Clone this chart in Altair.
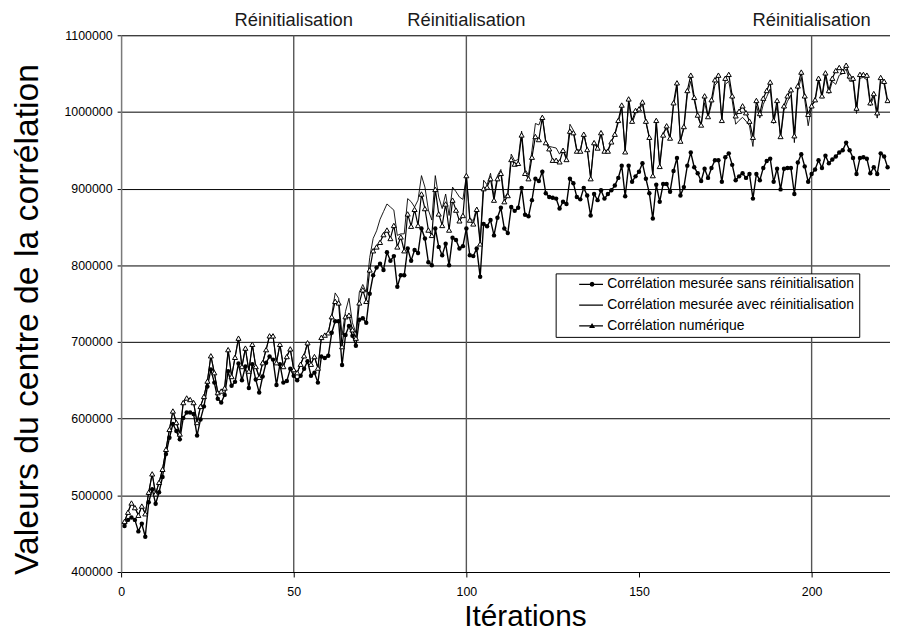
import altair as alt
import pandas as pd

# ---------------- data (values in thousands) ----------------
iterations = list(range(1, 223))

sans_reinit_k = [
    460, 468, 471, 468, 453, 463, 446, 491, 508, 489,
    504, 524, 554, 575, 593, 584, 573, 601, 608, 608,
    606, 578, 599, 616, 642, 664, 647, 626, 621, 631,
    662, 643, 648, 672, 650, 668, 640, 671, 651, 634,
    655, 673, 681, 677, 644, 671, 647, 649, 665, 656,
    650, 656, 665, 675, 656, 660, 647, 681, 679, 682,
    712, 727, 727, 670, 709, 721, 708, 695, 729, 731,
    725, 763, 787, 797, 802, 794, 817, 806, 812, 772,
    787, 787, 822, 806, 820, 816, 848, 835, 804, 800,
    848, 824, 813, 828, 800, 836, 833, 822, 825, 848,
    813, 812, 822, 785, 854, 851, 859, 839, 862, 875,
    848, 842, 876, 871, 875, 901, 866, 864, 885, 913,
    910, 922, 894, 889, 888, 887, 874, 883, 880, 913,
    907, 889, 886, 901, 891, 865, 893, 885, 898, 887,
    893, 898, 904, 914, 930, 890, 930, 909, 916, 922,
    933, 913, 894, 861, 905, 883, 906, 906, 896, 923,
    940, 891, 902, 930, 947, 928, 920, 910, 926, 914,
    927, 937, 937, 909, 941, 946, 931, 911, 916, 920,
    914, 919, 887, 919, 911, 927, 936, 939, 909, 926,
    899, 926, 927, 927, 893, 934, 945, 929, 909, 919,
    925, 937, 927, 943, 933, 938, 942, 947, 950, 960,
    950, 940, 919, 940, 941, 939, 920, 928, 919, 946,
    942, 928,
]

avec_reinit_k = [
    466, 478, 490, 484, 474, 486, 476, 504, 528, 502,
    517, 534, 560, 586, 610, 595, 580, 621, 627, 625,
    621, 595, 616, 629, 649, 682, 660, 634, 636, 640,
    690, 655, 680, 705, 668, 692, 662, 697, 668, 654,
    673, 690, 708, 708, 673, 697, 668, 681, 691, 664,
    660, 671, 682, 699, 671, 681, 666, 706, 709, 712,
    735, 764, 757, 709, 740, 757, 725, 712, 765, 775,
    765, 810, 835, 845, 860, 870, 880, 876, 872, 839,
    841, 841, 887, 883, 876, 885, 917, 902, 872, 859,
    917, 889, 874, 893, 865, 902, 896, 889, 886, 917,
    862, 858, 876, 832, 911, 905, 920, 889, 917, 925,
    888, 895, 945, 936, 938, 975, 925, 918, 950, 985,
    983, 995, 962, 955, 954, 953, 945, 952, 940, 984,
    976, 951, 950, 972, 952, 915, 961, 954, 972, 950,
    950, 962, 970, 986, 1005, 950, 1012, 985, 998, 1002,
    1010, 986, 966, 918, 985, 931, 973, 978, 965, 1008,
    1032, 962, 978, 1022, 1040, 1015, 994, 982, 1012, 993,
    1010, 1035, 1040, 990, 1036, 1040, 1015, 984, 989, 993,
    988, 982, 955, 1008, 992, 1010, 1020, 1030, 985, 1008,
    966, 1002, 1014, 1022, 960, 1028, 1045, 1016, 982, 1008,
    1014, 1040, 1018, 1046, 1024, 1040, 1036, 1048, 1050, 1056,
    1040, 1040, 998, 1044, 1045, 1042, 1008, 1020, 992, 1040,
    1036, 1012,
]

numerique_k = [
    466, 478, 490, 484, 474, 486, 476, 504, 528, 502,
    517, 534, 560, 586, 610, 595, 580, 621, 627, 625,
    621, 595, 616, 629, 649, 682, 660, 634, 636, 640,
    690, 655, 680, 705, 668, 692, 662, 697, 668, 654,
    673, 690, 708, 708, 673, 697, 668, 681, 691, 664,
    660, 671, 682, 699, 671, 681, 666, 706, 709, 712,
    733, 753, 751, 694, 733, 735, 716, 705, 751, 768,
    753, 794, 819, 824, 830, 840, 846, 835, 852, 824,
    837, 819, 867, 851, 873, 852, 893, 874, 846, 839,
    899, 867, 852, 880, 846, 885, 872, 858, 865, 917,
    859, 854, 873, 828, 900, 902, 913, 885, 913, 920,
    883, 891, 938, 932, 933, 970, 920, 913, 941, 968,
    964, 993, 960, 952, 937, 937, 935, 950, 938, 975,
    973, 949, 949, 971, 951, 913, 960, 953, 973, 949,
    949, 961, 971, 989, 1009, 948, 1017, 988, 1002, 1004,
    1013, 988, 967, 917, 989, 929, 970, 982, 966, 1012,
    1038, 962, 981, 1028, 1048, 1019, 996, 983, 1021, 994,
    1016, 1042, 1048, 989, 1044, 1049, 1021, 995, 1001, 1008,
    999, 988, 967, 1015, 998, 1018, 1028, 1039, 989, 1015,
    968, 1008, 1021, 1029, 969, 1034, 1052, 1021, 997, 1008,
    1016, 1044, 1021, 1051, 1028, 1044, 1054, 1058, 1053, 1061,
    1047, 1044, 1005, 1049, 1049, 1048, 1012, 1024, 999, 1045,
    1040, 1015,
]

series_names = [
    "Corrélation mesurée sans réinitialisation",
    "Corrélation mesurée avec réinitialisation",
    "Corrélation numérique",
]
line_widths = [1.4, 0.9, 1.2]
reinit_iters = [50, 100, 200]
reinit_text = "Réinitialisation"
x_ticks = [0, 50, 100, 150, 200]
y_ticks = [400000, 500000, 600000, 700000, 800000, 900000, 1000000, 1100000]

rows = []
for name, vals in zip(series_names, [sans_reinit_k, avec_reinit_k, numerique_k]):
    for it, v in zip(iterations, vals):
        rows.append({"iteration": it, "value": v * 1000, "series": name})
df = pd.DataFrame(rows)
reinit_df = pd.DataFrame({"iteration": reinit_iters, "label": [reinit_text] * len(reinit_iters)})

FONT = "Liberation Sans"

x_enc = alt.X(
    "iteration:Q",
    scale=alt.Scale(domain=[0, 222.7], nice=False, zero=False),
    axis=alt.Axis(
        values=x_ticks, grid=False, title="Itérations",
        titleFont=FONT, titleFontSize=30, titleFontWeight="normal", titleColor="black",
        titleX=407, titleY=54, titleBaseline="alphabetic", titleAnchor="middle",
        labelFont=FONT, labelFontSize=12.5, labelColor="black", labelFlush=False,
        labelPadding=9, tickSize=5, tickColor="black", domainColor="black", domainWidth=1,
    ),
)
y_enc = alt.Y(
    "value:Q",
    scale=alt.Scale(domain=[400000, 1100000], nice=False, zero=False),
    axis=alt.Axis(
        values=y_ticks, format="d", grid=True, gridColor="black", gridWidth=1, gridOpacity=1,
        title="Valeurs du centre de la corrélation",
        titleFont=FONT, titleFontSize=34, titleFontWeight="normal", titleColor="black",
        titleX=-84, titleY=286, titleBaseline="alphabetic", titleAngle=270,
        labelFont=FONT, labelFontSize=12.5, labelColor="black", labelFlush=False,
        labelPadding=5, tickSize=4, tickColor="black", domainColor="#7a7a7a", domainWidth=1.5,
    ),
)

base = alt.Chart(df)

line_layers = []
for i, (name, w) in enumerate(zip(series_names, line_widths)):
    enc_x = x_enc if i == 0 else alt.X("iteration:Q")
    enc_y = y_enc if i == 0 else alt.Y("value:Q")
    line_layers.append(
        base.transform_filter(alt.datum.series == name)
        .mark_line(color="black", strokeWidth=w, clip=True)
        .encode(x=enc_x, y=enc_y, order="iteration:Q")
    )

pts_sans = base.transform_filter(
    alt.datum.series == series_names[0]
).mark_point(shape="circle", filled=True, color="black", size=20, opacity=1, clip=True).encode(
    x="iteration:Q", y="value:Q"
)

pts_num = base.transform_filter(
    alt.datum.series == series_names[2]
).mark_point(shape="triangle-up", fill="white", stroke="black", strokeWidth=1,
             fillOpacity=1, opacity=1, size=26, clip=True).encode(
    x="iteration:Q", y="value:Q"
)

# legend glyphs: a short (filled) line segment with the series marker on it
seg = "M-0.124,-0.027H0.942V0.027H-0.124Z"
legend_paths = [
    seg + "M0.564,0L0.532,0.079L0.453,0.111L0.374,0.079L0.342,0L0.374,-0.079L0.453,-0.111L0.532,-0.079Z",
    seg,
    seg + "M0.453,-0.133L0.586,0.089L0.32,0.089Z",
]

legend_layer = base.mark_point(
    filled=True, color="black", opacity=0, clip=True
).encode(
    x="iteration:Q",
    y="value:Q",
    shape=alt.Shape(
        "series:N",
        scale=alt.Scale(domain=series_names, range=legend_paths),
        legend=alt.Legend(
            orient="none", legendX=438, legendY=240, direction="vertical",
            fillColor="white", strokeColor="black", padding=4,
            symbolSize=2025, symbolStrokeWidth=0, symbolFillColor="black",
            symbolOpacity=1, clipHeight=14,
            labelFont=FONT, labelFontSize=14, labelColor="black", labelOffset=3,
            labelLimit=400, rowPadding=7,
        ),
        title="",
    ),
)

rules = alt.Chart(reinit_df).mark_rule(color="#555555", strokeWidth=1.4).encode(
    x="iteration:Q"
)

labels = alt.Chart(reinit_df).mark_text(
    font=FONT, fontSize=18.5, color="#1a1a1a", baseline="middle", align="center"
).encode(
    x="iteration:Q", y=alt.value(-15), text="label:N"
)

chart = alt.layer(rules, *line_layers, pts_sans, pts_num, labels, legend_layer).properties(
    width=775,
    height=541,
    autosize=alt.AutoSizeParams(type="none"),
    padding={"left": 114, "top": 25, "right": 0, "bottom": 62},
).configure_view(strokeWidth=0).configure(font=FONT)

chart.save("out.html", embed_options={"renderer": "svg", "actions": False})
